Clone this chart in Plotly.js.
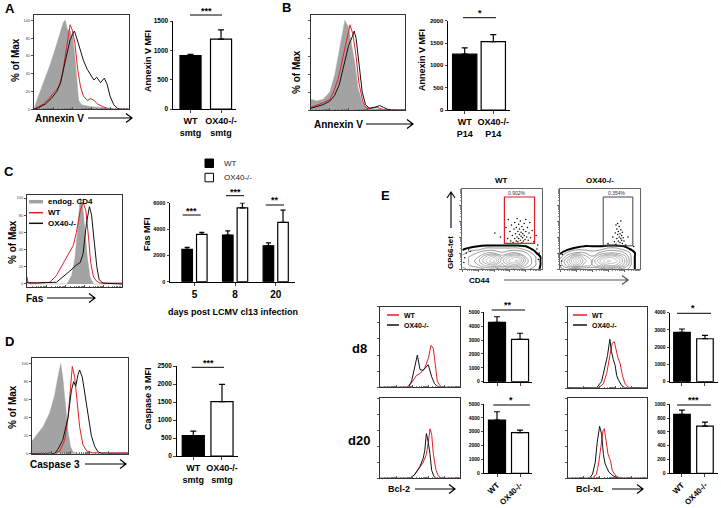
<!DOCTYPE html>
<html><head><meta charset="utf-8">
<script src="https://cdn.plot.ly/plotly-3.0.1.min.js"></script>
<style>html,body{margin:0;padding:0;background:#fff}#chart{width:721px;height:508px}</style>
</head><body><div id="chart"></div>
<script>
// ================= DATA =================
// Histograms: [x (% of axis width), y (% of max)]
const histA_ctrl = [[0,0],[3,10],[10,30],[17,50],[23,70],[27,85],[31,98],[33,100],[35,90],[38,88],[41,80],[43,60],[45,30],[47,10],[50,5],[60,3],[70,2],[80,1],[88,0],[100,0]];
const histA_wt = [[0,0],[3,2],[10,6],[16,12],[20,18],[24,22],[27,28],[30,40],[33,60],[36,85],[38,95],[40,90],[43,75],[46,45],[49,25],[52,15],[56,10],[60,12],[63,10],[67,6],[72,3],[78,1],[84,0],[100,0]];
const histA_ox = [[0,0],[5,2],[12,6],[18,12],[24,20],[28,30],[31,45],[35,65],[38,78],[41,85],[42.5,88],[45,80],[48,68],[52,55],[56,45],[60,38],[63,33],[66,36],[70,30],[74,35],[77,28],[80,15],[84,5],[88,1],[92,0],[100,0]];

const histB_ctrl = [[0,12],[6,10],[13,12],[20,20],[25.5,40],[29,60],[32.6,85],[36,100],[40,92],[43,75],[47,50],[50,25],[54,10],[57,4],[63,2],[70,1],[84,0],[100,0]];
const histB_wt = [[0,3],[6,5],[13,8],[20,12],[24,20],[29,35],[34,60],[39,85],[41.5,95],[44.5,85],[48,60],[51,30],[55,10],[58,3],[62,1],[66,3],[70,3],[75,1],[80,0],[100,0]];
const histB_ox = [[0,2],[6,4],[13,6],[20,10],[25,16],[30,28],[35,50],[40,72],[44,82],[46,88],[48,80],[51,50],[54.5,20],[58,6],[62,2],[68,3],[73,5],[77,3],[81,1],[86,0],[100,0]];

const histC_ctrl = [[0,0],[42,0],[47,10],[50.5,30],[53,60],[56,100],[58.7,90],[61,60],[63.6,30],[66.4,8],[70,0],[100,0]];
const histC_wt = [[0,8],[1,2],[10,1],[24,2],[31,10],[36,20],[41.7,30],[45,38],[48.8,45],[52,60],[56,85],[59,95],[62,85],[64.7,55],[67,25],[70,8],[73.5,3],[77,1],[100,1]];
const histC_ox = [[0,2],[2,1],[31,2],[38,8],[45,15],[52,22],[56,25],[59,35],[62.5,70],[65.7,90],[68,80],[70.7,50],[73.5,20],[76,5],[80,1],[100,0]];

const histD_ctrl = [[0,14],[4.5,20],[11.5,30],[18.4,45],[23.6,65],[27,85],[30,100],[32,85],[35,55],[37.5,25],[40,8],[42.7,2],[49.6,0],[100,0]];
const histD_wt = [[0,0],[22,0],[29,3],[34,15],[37.5,40],[40,70],[42,97],[44.5,85],[47,60],[49.6,30],[53,10],[57,3],[63,1],[100,1]];
const histD_ox = [[0,0],[23.6,0],[27,5],[32,15],[37.5,40],[41,70],[43.4,80],[45.5,75],[48,88],[49.6,93],[52.4,85],[56,60],[58.3,40],[61.8,20],[65.3,8],[68.8,2],[74,0],[100,0]];

const bcl2_d8_wt = [[0,0],[33,0],[37.5,3],[41.7,9],[45.8,15],[50,17],[52,19],[56,24],[60.4,36],[63.8,52],[66.7,48],[69,26],[71.7,7],[75,2],[78,0],[100,0]];
const bcl2_d8_ox = [[0,0],[35.4,0],[39.6,8],[43.75,25],[46.7,40],[48.5,30],[50,22],[54,21],[58,25],[60.4,28],[64.6,13],[68,5],[70.8,2],[74,0],[100,0]];
const bcl2_d20_wt = [[0,0],[37.5,0],[41.7,3],[45.8,8],[50,14],[54,20],[58,30],[60.4,45],[62.5,62],[64.6,55],[66.7,30],[70,10],[73,3],[77,0],[100,0]];
const bcl2_d20_ox = [[0,0],[37.5,0],[43.75,5],[50,15],[54,25],[56,35],[58,56],[60.4,45],[62.5,30],[64.6,10],[67.5,2],[70.8,0],[100,0]];
const bclxl_d8_wt = [[0,0],[38.3,0],[44.7,5],[49,18],[53,40],[56,55],[58.7,57],[60.9,45],[63,38],[66,30],[69,15],[72.3,5],[76.6,1],[81,0],[100,0]];
const bclxl_d8_ox = [[0,0],[36,0],[42.5,8],[46.8,25],[50,40],[53,60],[55,45],[57.4,35],[59.6,28],[61.7,15],[63.8,10],[68,3],[72.3,0],[100,0]];
const bclxl_d20_wt = [[0,0],[31,0],[36,5],[39,20],[41.7,40],[44.4,60],[46,62],[48.4,45],[50.7,30],[53.8,22],[56,10],[60.5,3],[65,1],[70,0],[100,0]];
const bclxl_d20_ox = [[0,0],[27,0],[31,5],[34.5,20],[37,45],[40,65],[42.6,55],[44.8,30],[47,18],[51.6,8],[56,4],[60.5,1],[65,0],[100,0]];

// Bar charts
const barA_cats = ['WT<br>smtg','OX40-/-<br>smtg'];
const barA_vals = [910, 1190];
const barA_err  = [20, 160];
const barB_cats = ['WT<br>P14','OX40-/-<br>P14'];
const barB_vals = [1250, 1530];
const barB_err  = [140, 160];
const barC_days = ['5','8','20'];
const barC_wt   = [2450, 3540, 2730];
const barC_wt_err = [150, 320, 220];
const barC_ox   = [3590, 5610, 4500];
const barC_ox_err = [150, 380, 930];
const barD_cats = ['WT<br>smtg','OX40-/-<br>smtg'];
const barD_vals = [570, 1510];
const barD_err  = [120, 480];
const barE_cats = ['WT','OX40-/-'];
const bcl2_d8_vals = [4280, 3055];   const bcl2_d8_err = [400, 435];
const bcl2_d20_vals = [3840, 2930];  const bcl2_d20_err = [600, 190];
const bclxl_d8_vals = [2860, 2490];  const bclxl_d8_err = [195, 200];
const bclxl_d20_vals = [855, 685];   const bclxl_d20_err = [62, 58];

// Contour (GP66-tet vs CD44) density grids
const cX = [0,10,20,30,40,50,60,70,80,90,100];
const cY = [0,5,10,15,20,25,30,35];
const zWT = [
 [2,3,3,4,4,3,4,4,3,2,1],
 [3,4,5,7,8,6,8,8,5,3,1],
 [3,4,6,9,12,7,11,12,6,3,1],
 [3,4,5,8,10,6,9,10,5,3,1],
 [2,3,4,5,5,4,5,5,4,2,0],
 [1,2,2,3,3,3,3,3,2,1,0],
 [0,0,1,1,1,1,1,1,1,0,0],
 [0,0,0,0,0,0,0,0,0,0,0]];
const zOX = [
 [2,3,3,3,3,3,4,4,3,2,0],
 [3,6,9,6,5,7,9,9,6,2,0],
 [3,7,12,7,5,9,12,11,7,2,0],
 [2,5,9,6,4,7,10,9,6,2,0],
 [1,3,4,4,3,4,5,5,4,2,0],
 [0,1,2,2,2,2,3,3,2,1,0],
 [0,0,0,1,1,1,1,1,1,0,0],
 [0,0,0,0,0,0,0,0,0,0,0]];
const dotsWT = [[41,45],[48,40],[55,52],[57,38],[58,62],[60,47],[61,35],[62,55],[63,42],[64,33],[65,50],[66,38],[66,58],[67,44],[68,35],[68,52],[69,40],[69,63],[70,47],[70,34],[71,56],[71,38],[72,43],[72,50],[73,36],[73,60],[74,41],[74,46],[75,33],[75,53],[76,39],[76,44],[77,49],[77,35],[78,57],[78,42],[79,37],[80,47],[80,62],[81,40],[82,52],[83,36],[84,45],[85,58],[86,39],[88,48],[90,34],[93,42],[95,30],[5,20],[3,14],[8,24],[2,8],[10,22],[94,25],[97,20],[96,12]];
const dotsOX = [[66,40],[68,34],[69,45],[70,31],[71,38],[71,50],[72,43],[72,57],[73,35],[73,47],[74,40],[74,53],[75,33],[75,44],[76,38],[76,49],[77,36],[77,42],[78,46],[78,32],[79,39],[80,35],[76,60],[70,55],[82,30],[60,32],[85,40],[2,10],[3,18],[6,22],[1,4],[92,28],[94,20]];
const gateWT = [53, 91, 32, 90];
const gateOX = [54, 91, 29, 90];
const gateWT_pct = '0.902%';
const gateOX_pct = '0.354%';

// ================= BUILD =================
const W = 721, H = 508;
const F = 'Arial, "Liberation Sans", sans-serif';
const ax = p => p / W, ay = p => 1 - p / H;
const xa = k => k === 1 ? 'x' : 'x' + k;
const ya = k => k === 1 ? 'y' : 'y' + k;
const RED = '#e41e26', GRAY = '#a3a3a3', BLK = '#111';

const layout = {
  width: W, height: H, margin: {l:0, r:0, t:0, b:0},
  paper_bgcolor: '#fff', plot_bgcolor: 'rgba(0,0,0,0)',
  showlegend: false, barmode: 'overlay',
  font: {family: F, color: '#000'},
  shapes: [], annotations: []
};
const traces = [];

function setAx(k, xpx, ypx, xo, yo) {
  layout['xaxis' + (k === 1 ? '' : k)] = Object.assign({domain: [xpx[0]/W, xpx[1]/W], anchor: ya(k), fixedrange: true}, xo);
  layout['yaxis' + (k === 1 ? '' : k)] = Object.assign({domain: [1 - ypx[1]/H, 1 - ypx[0]/H], anchor: xa(k), fixedrange: true}, yo);
}
const logMinor = [];
for (let d = 0; d < 5; d++) for (let m = 2; m <= 9; m++) logMinor.push(d*20 + 20*Math.log10(m));

function histAxes(k, xpx, ypx, yr, labels) {
  setAx(k, xpx, ypx,
    {range: [0,100], showline: true, mirror: true, linecolor: '#333', linewidth: 1, ticks: 'inside', ticklen: 2.5, tickcolor: '#555',
     tickvals: [0,20,40,60,80], showticklabels: false, showgrid: false, zeroline: false,
     minor: {ticks: 'inside', ticklen: 1.5, tickvals: logMinor, tickcolor: '#777'}},
    {range: yr, showline: true, mirror: true, linecolor: '#333', linewidth: 1, ticks: 'outside', ticklen: 2, tickcolor: '#555',
     tickvals: [0,20,40,60,80,100], showticklabels: labels, tickfont: {size: 4, color: '#444', family: F},
     showgrid: false, zeroline: false});
}
function curve(k, pts, color, fill) {
  const t = {type: 'scatter', mode: 'lines', xaxis: xa(k), yaxis: ya(k),
    x: pts.map(p => p[0]), y: pts.map(p => p[1]),
    line: {color: color, width: fill ? 0.5 : 1}, hoverinfo: 'skip'};
  if (fill) { t.fill = 'tozeroy'; t.fillcolor = color; }
  return t;
}
function barAxes(k, xpx, ypx, xr, yr, dtick, xfont, yfont, showX, angle) {
  setAx(k, xpx, ypx,
    {type: 'category', range: xr, showline: true, linecolor: '#000', linewidth: 1, ticks: 'outside', ticklen: 3,
     showticklabels: showX, tickangle: angle, tickfont: {size: xfont, family: F, color: '#000', weight: 'bold'},
     showgrid: false, zeroline: false},
    {range: yr, dtick: dtick, showline: true, linecolor: '#000', linewidth: 1, ticks: 'outside', ticklen: 2.5,
     tickfont: {size: yfont, family: F, color: '#000', weight: 'bold'}, showgrid: false, zeroline: false});
}
function bar2(k, cats, vals, errs, width) {
  return {type: 'bar', xaxis: xa(k), yaxis: ya(k), x: cats, y: vals, width: width,
    marker: {color: ['#000','#fff'], line: {color: '#000', width: 1.2}},
    error_y: {type: 'data', symmetric: false, array: errs, arrayminus: [0,0], color: '#000', thickness: 1.2, width: 3},
    hoverinfo: 'skip'};
}
function T(text, x, y, size, o) {
  o = o || {};
  layout.annotations.push({text: o.bold === false ? text : '<b>' + text + '</b>',
    x: ax(x), y: ay(y), xref: 'paper', yref: 'paper', showarrow: false,
    font: {family: F, size: size, color: o.color || '#000'},
    xanchor: o.xanchor || 'center', yanchor: 'middle', textangle: o.angle || 0});
}
function L(x1, y1, x2, y2, color, width) {
  layout.shapes.push({type: 'line', xref: 'paper', yref: 'paper', x0: ax(x1), y0: ay(y1), x1: ax(x2), y1: ay(y2),
    line: {color: color, width: width}});
}
function arrowR(x1, x2, y, color) {
  layout.shapes.push({type: 'path', xref: 'paper', yref: 'paper',
    path: `M${ax(x1)},${ay(y)} L${ax(x2)},${ay(y)} M${ax(x2-6)},${ay(y-4.5)} L${ax(x2)},${ay(y)} L${ax(x2-6)},${ay(y+4.5)}`,
    line: {color: color || '#000', width: 1.2}});
}
function rect(x0, y0, x1, y1, fill, lc) {
  layout.shapes.push({type: 'rect', xref: 'paper', yref: 'paper', x0: ax(x0), y0: ay(y1), x1: ax(x1), y1: ay(y0),
    fillcolor: fill, line: {color: lc, width: 1}});
}

// ---- Panel A ----
histAxes(1, [34,129], [15,109.3], [0,106], true);
traces.push(curve(1, histA_ctrl, GRAY, true), curve(1, histA_wt, RED), curve(1, histA_ox, BLK));
barAxes(2, [173,236], [21,109], [-0.574,1.49], [0,1500], 500, 9, 6.5, true, 0);
traces.push(bar2(2, barA_cats, barA_vals, barA_err, 0.69));
T('A', 10, 9, 13);
T('% of Max', 15, 60, 10, {angle: -90});
T('Annexin V', 59, 118, 10); arrowR(88, 132, 118);
T('Annexin V MFI', 148, 61, 9, {angle: -90});
L(190, 15, 222, 15, '#000', 1); T('***', 206, 11, 9);

// ---- Panel B ----
histAxes(3, [311,405], [15,110], [0,106], false);
traces.push(curve(3, histB_ctrl, GRAY, true), curve(3, histB_wt, RED), curve(3, histB_ox, BLK));
barAxes(4, [448,510], [20.7,110], [-0.584,1.584], [0,2000], 500, 9, 6, true, 0);
traces.push(bar2(4, barB_cats, barB_vals, barB_err, 0.85));
T('B', 286, 8, 13);
T('% of Max', 297, 72, 10, {angle: -90});
T('Annexin V', 338, 124, 10); arrowR(366, 413, 124);
T('Annexin V MFI', 422, 60, 9, {angle: -90});
L(463, 17.7, 496, 17.7, '#000', 1); T('*', 480, 13, 9);

// ---- Panel C ----
histAxes(5, [27,122], [195,287], [-3.5,103.5], true);
traces.push(curve(5, histC_ctrl, GRAY, true), curve(5, histC_wt, RED), curve(5, histC_ox, BLK));
setAx(6, [170,295], [202.7,281.7],
  {type: 'category', range: [-0.603,2.475], showline: true, linecolor: '#000', linewidth: 1, ticks: 'outside', ticklen: 3,
   tickfont: {size: 10, family: F, color: '#000', weight: 'bold'}, showgrid: false, zeroline: false},
  {range: [0,6000], dtick: 2000, showline: true, linecolor: '#000', linewidth: 1, ticks: 'outside', ticklen: 2.5,
   tickfont: {size: 5.5, family: F, color: '#000', weight: 'bold'}, showgrid: false, zeroline: false});
traces.push({type: 'bar', xaxis: 'x6', yaxis: 'y6', x: barC_days, y: barC_wt, width: 0.26, offset: -0.31,
  marker: {color: '#000', line: {color: '#000', width: 1.2}},
  error_y: {type: 'data', symmetric: false, array: barC_wt_err, arrayminus: [0,0,0], color: '#000', thickness: 1.2, width: 2.5}, hoverinfo: 'skip'});
traces.push({type: 'bar', xaxis: 'x6', yaxis: 'y6', x: barC_days, y: barC_ox, width: 0.26, offset: 0.05,
  marker: {color: '#fff', line: {color: '#000', width: 1.2}},
  error_y: {type: 'data', symmetric: false, array: barC_ox_err, arrayminus: [0,0,0], color: '#000', thickness: 1.2, width: 2.5}, hoverinfo: 'skip'});
T('C', 9, 171, 13);
T('% of Max', 12, 242, 10, {angle: -90});
T('Fas', 35, 298, 10); arrowR(47, 95, 298);
L(29, 201.7, 43, 201.7, GRAY, 3.5); T('endog. CD4', 46, 201.7, 8, {xanchor: 'left'});
L(29, 212.7, 43, 212.7, RED, 1.5); T('WT', 46, 212.7, 8, {xanchor: 'left'});
L(29, 223.3, 43, 223.3, BLK, 1.5); T('OX40-/-', 46, 223.3, 8, {xanchor: 'left'});
T('Fas MFI', 147, 234, 9, {angle: -90});
T('days post LCMV cl13 infection', 233, 312, 9);
rect(205, 159, 213.5, 167.5, '#000', '#000'); T('WT', 221.7, 163.3, 8, {xanchor: 'left', bold: false, color: '#222'});
rect(205, 173.3, 213.5, 181.8, '#fff', '#000'); T('OX40-/-', 221.7, 177.7, 8, {xanchor: 'left', bold: false, color: '#222'});
L(182.7, 215, 200.7, 215, '#000', 1); T('***', 191.7, 211, 9);
L(226, 195.7, 244, 195.7, '#000', 1); T('***', 235, 191.5, 9);
L(265.7, 205, 284, 205, '#000', 1); T('**', 275, 200.5, 9);

// ---- Panel D ----
histAxes(7, [32,128], [358.3,453.7], [0,106], true);
traces.push(curve(7, histD_ctrl, GRAY, true), curve(7, histD_wt, RED), curve(7, histD_ox, BLK));
barAxes(8, [176.7,238], [366,456], [-0.578,1.558], [0,2500], 500, 9, 6.5, true, 0);
traces.push(bar2(8, barD_cats, barD_vals, barD_err, 0.77));
T('D', 9, 341, 13);
T('% of Max', 12, 407, 10, {angle: -90});
T('Caspase 3', 55, 464, 10); arrowR(85, 126, 464);
T('Caspase 3 MFI', 148, 399, 9, {angle: -90});
L(191.7, 367.3, 224, 367.3, '#000', 1); T('***', 208, 363, 9);

// ---- Panel E (contours) ----
function contourAxes(k, xpx) {
  setAx(k, xpx, [189,269],
    {range: [0,100], showline: true, mirror: true, linecolor: '#666', linewidth: 1, ticks: 'outside', ticklen: 2, tickcolor: '#666',
     tickvals: [0,20,40,60,80], showticklabels: false, showgrid: false, zeroline: false,
     minor: {ticks: 'outside', ticklen: 1, tickvals: logMinor, tickcolor: '#888'}},
    {range: [0,100], showline: true, mirror: true, linecolor: '#666', linewidth: 1, ticks: 'outside', ticklen: 2, tickcolor: '#666',
     tickvals: [0,20,40,60,80], showticklabels: false, showgrid: false, zeroline: false,
     minor: {ticks: 'outside', ticklen: 1, tickvals: logMinor, tickcolor: '#888'}});
}
function contourTraces(k, z, dots) {
  traces.push({type: 'contour', xaxis: xa(k), yaxis: ya(k), x: cX, y: cY, z: z, showscale: false,
    contours: {coloring: 'lines', start: 2.5, end: 12, size: 1.3},
    colorscale: [[0,'#666'],[0.5,'#8a8a8a'],[1,'#bdbdbd']], zmin: 2.5, zmax: 12, line: {width: 0.7, smoothing: 1.3}, hoverinfo: 'skip'});
  traces.push({type: 'contour', xaxis: xa(k), yaxis: ya(k), x: cX, y: cY, z: z, showscale: false,
    contours: {coloring: 'none', start: 1.3, end: 1.3, size: 1},
    line: {color: '#000', width: 2, smoothing: 1.3}, hoverinfo: 'skip'});
  traces.push({type: 'scatter', mode: 'markers', xaxis: xa(k), yaxis: ya(k),
    x: dots.map(d => d[0]), y: dots.map(d => d[1]), marker: {color: '#000', size: 1.5}, hoverinfo: 'skip'});
}
contourAxes(9, [462.3,541.7]); contourTraces(9, zWT, dotsWT);
contourAxes(10, [560,640]); contourTraces(10, zOX, dotsOX);
layout.shapes.push({type: 'rect', xref: 'x9', yref: 'y9', x0: gateWT[0], x1: gateWT[1], y0: gateWT[2], y1: gateWT[3], line: {color: RED, width: 1.2}});
layout.shapes.push({type: 'rect', xref: 'x10', yref: 'y10', x0: gateOX[0], x1: gateOX[1], y0: gateOX[2], y1: gateOX[3], line: {color: '#444', width: 1}});
T('E', 385, 195, 13);
T('WT', 501.7, 180, 8); T('OX40-/-', 600, 180, 8);
T(gateWT_pct, 516.7, 192.7, 5, {bold: false, color: '#333'});
T(gateOX_pct, 616.7, 192.7, 5, {bold: false, color: '#333'});
T('GP66-tet', 450, 252, 8, {angle: -90});
layout.shapes.push({type: 'path', xref: 'paper', yref: 'paper',
  path: `M${ax(451)},${ay(228)} L${ax(451)},${ay(192)} M${ax(447)},${ay(198)} L${ax(451)},${ay(192)} L${ax(455)},${ay(198)}`,
  line: {color: '#000', width: 1.1}});
T('CD44', 479, 280, 8);
arrowR(504, 628, 280, '#555');

// ---- Panel E (Bcl-2 / Bcl-xL) ----
function eHistAxes(k, xpx, ypx) { histAxes(k, xpx, ypx, [0,100], false); }
eHistAxes(11, [380,460], [306.7,387.3]);
traces.push(curve(11, bcl2_d8_wt, RED), curve(11, bcl2_d8_ox, BLK));
eHistAxes(13, [380,460], [398.3,478.3]);
traces.push(curve(13, bcl2_d20_wt, RED), curve(13, bcl2_d20_ox, BLK));
eHistAxes(15, [568,647], [306.7,388]);
traces.push(curve(15, bclxl_d8_wt, RED), curve(15, bclxl_d8_ox, BLK));
eHistAxes(17, [568,647], [398.3,478.3]);
traces.push(curve(17, bclxl_d20_wt, RED), curve(17, bclxl_d20_ox, BLK));

barAxes(12, [484.3,532], [312.3,381.7], [-0.552,1.52], [0,5000], 1000, 8, 5, false, 0);
traces.push(bar2(12, barE_cats, bcl2_d8_vals, bcl2_d8_err, 0.74));
barAxes(14, [484.3,532], [404,473.3], [-0.552,1.52], [0,5000], 1000, 8, 5, true, -45);
traces.push(bar2(14, barE_cats, bcl2_d20_vals, bcl2_d20_err, 0.74));
barAxes(16, [670,718], [312.7,381.7], [-0.52,1.567], [0,4000], 1000, 8, 5, false, 0);
traces.push(bar2(16, barE_cats, bclxl_d8_vals, bclxl_d8_err, 0.72));
barAxes(18, [670,718], [404.3,473.3], [-0.52,1.567], [0,1000], 200, 8, 5, true, -45);
traces.push(bar2(18, barE_cats, bclxl_d20_vals, bclxl_d20_err, 0.72));

T('d8', 359, 348, 13); T('d20', 359, 440, 13);
L(387, 315, 399, 315, RED, 1.5); T('WT', 402, 315, 7, {xanchor: 'left'});
L(387, 325, 399, 325, BLK, 1.5); T('OX40-/-', 402, 325, 7, {xanchor: 'left'});
L(573, 315, 587, 315, RED, 1.5); T('WT', 590, 315, 7, {xanchor: 'left'});
L(573, 325, 587, 325, BLK, 1.5); T('OX40-/-', 590, 325, 7, {xanchor: 'left'});
T('Bcl-2', 398.5, 489, 9); arrowR(415, 455, 489);
T('Bcl-xL', 589.5, 489, 9); arrowR(612, 643, 489);
L(491.7, 310, 525, 310, '#000', 1); T('**', 508, 305, 9);
L(493.3, 405, 530, 405, '#000', 1); T('*', 511, 400, 9);
L(677, 313.3, 711, 313.3, '#000', 1); T('*', 693, 308, 9);
L(677, 405, 711, 405, '#000', 1); T('***', 693, 400, 9);

Plotly.newPlot('chart', traces, layout, {staticPlot: true, displayModeBar: false});
</script>
</body></html>
